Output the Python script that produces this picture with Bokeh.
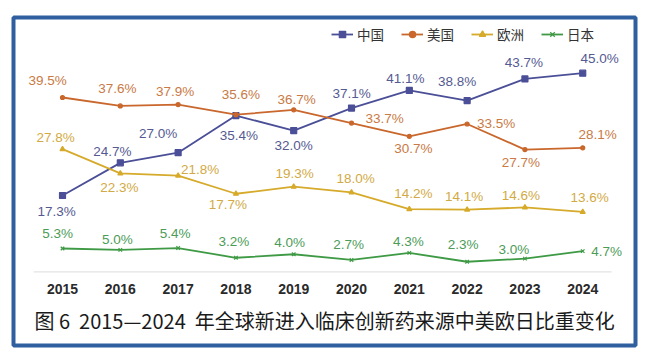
from bokeh.plotting import figure
from bokeh.models import ColumnDataSource, LabelSet, Label, Legend, LegendItem
from bokeh.core.properties import value
from bokeh.embed import file_html
from bokeh.resources import INLINE

years = [2015, 2016, 2017, 2018, 2019, 2020, 2021, 2022, 2023, 2024]
china = [17.3, 24.7, 27.0, 35.4, 32.0, 37.1, 41.1, 38.8, 43.7, 45.0]
usa = [39.5, 37.6, 37.9, 35.6, 36.7, 33.7, 30.7, 33.5, 27.7, 28.1]
europe = [27.8, 22.3, 21.8, 17.7, 19.3, 18.0, 14.2, 14.1, 14.6, 13.6]
japan = [5.3, 5.0, 5.4, 3.2, 4.0, 2.7, 4.3, 2.3, 3.0, 4.7]
names = ["中国", "美国", "欧洲", "日本"]
year_labels = [str(y) for y in years]
caption = "图\u00a06\u00a0\u00a02015—2024\u00a0\u00a0年全球新进入临床创新药来源中美欧日比重变化"

# label offsets (screen px, +down) for each value label
china_dx = [-6, -8, -20, 3, 0, 0, -4, -10, -1, 17]
china_dy = [16, -11, -19, 20, 15, -15, -12, -19, -16, -15]
usa_dx = [-15, -3, -3, 5, 3, 33, 4, 29, -4, 15]
usa_dy = [-17, -17, -13, -20, -10, -5, 12, 0, 13, -13]
europe_dx = [-7, -1, 22, -8, 1, 4, 4, -3, -4, 7]
europe_dy = [-12, 14, -6, 11, -13, -14, -16, -13, -12, -14]
japan_dx = [-5, -3, -3, -2, -4, -3, -1, -4, -11, 24]
japan_dy = [-15, -10, -15, -16, -12, -15, -11, -17, -9, 0]

line_colors = ["#4b4f97", "#c9672c", "#d6aa2a", "#3f9a45"]
text_colors = ["#555a92", "#c97a45", "#d2aa45", "#4c9c58"]
markers = ["square", "circle", "triangle", "x"]
msizes = [6, 4, 5, 5]

NUM_FONT = "Liberation Sans"
CJK_FONT = "Noto Sans CJK SC"

# frame = interior of the blue box; scales set so years/values land at the reference pixels
p = figure(width=650, height=361, x_range=(2014.152, 2024.913), y_range=(-16.67, 57.62),
           output_backend="svg", toolbar_location=None,
           x_axis_location=None, y_axis_location=None,
           min_border_left=13, min_border_right=15, min_border_top=17,
           min_border_bottom=16)
p.xgrid.visible = False
p.ygrid.visible = False
p.outline_line_color = "#2f5f9f"
p.outline_line_width = 4
p.background_fill_color = "white"
p.border_fill_color = "white"

# baseline (x axis line)
p.segment(x0=[years[0] - 0.5], y0=[0], x1=[years[-1] + 0.5], y1=[0],
          line_color="#dcdcdc", line_width=1)

# year tick labels
p.text(x=years, y=[0] * len(years), text=year_labels, y_offset=17,
       text_align="center", text_baseline="middle",
       text_font=value(NUM_FONT), text_font_size="14px", text_font_style="bold",
       text_color="#2a2a2a")

series = [china, usa, europe, japan]
dxs = [china_dx, usa_dx, europe_dx, japan_dx]
dys = [china_dy, usa_dy, europe_dy, japan_dy]

items = []
for i, vals in enumerate(series):
    src = ColumnDataSource(dict(x=years, y=vals,
                                t=[f"{v:.1f}%" for v in vals],
                                dx=dxs[i], dy=[-d for d in dys[i]]))
    ln = p.line("x", "y", source=src, line_color=line_colors[i], line_width=1.8)
    sc = p.scatter("x", "y", source=src, marker=markers[i], size=msizes[i],
                   fill_color=line_colors[i], line_color=line_colors[i], line_width=1.2)
    items.append(LegendItem(label=names[i], renderers=[ln, sc]))
    ls = LabelSet(x="x", y="y", text="t", source=src, x_offset="dx", y_offset="dy",
                  text_align="center", text_baseline="middle",
                  text_font=value(NUM_FONT), text_font_size="13.5px",
                  text_color=text_colors[i])
    p.add_layout(ls)

legend = Legend(items=items, orientation="horizontal", location=(318, 301),
                padding=0, margin=0, spacing=17, label_standoff=4,
                glyph_width=22, glyph_height=16,
                label_text_font=CJK_FONT, label_text_font_size="13.5px",
                label_text_color="#333333", border_line_color=None,
                background_fill_alpha=0)
p.add_layout(legend, "center")

cap = Label(x=(years[0] + years[-1]) / 2, y=0, x_offset=2, y_offset=-49, text=caption,
            text_align="center", text_baseline="middle", text_font=CJK_FONT,
            text_font_size="20px", text_color="#1a1a1a")
p.add_layout(cap)

open("out.html", "w").write(file_html(p, INLINE))
